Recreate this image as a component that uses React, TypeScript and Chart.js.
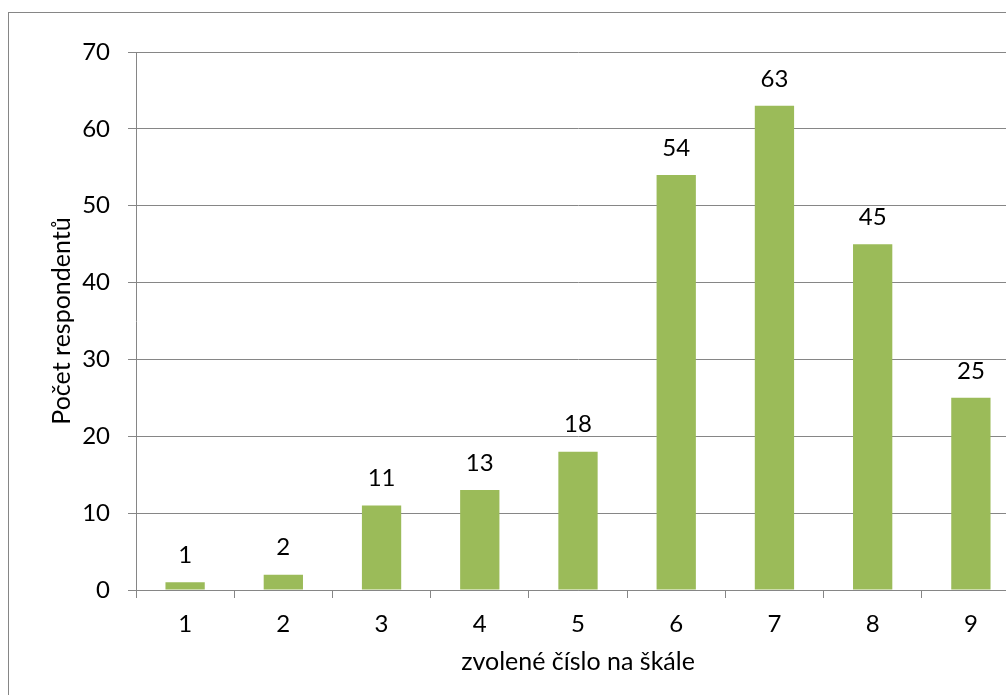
import React, { useEffect, useRef } from "react";
import { Chart, registerables } from "chart.js";

Chart.register(...registerables);

const categories = ["1", "2", "3", "4", "5", "6", "7", "8", "9"];
const respondents = [1, 2, 11, 13, 18, 54, 63, 45, 25];
const yTicks = [0, 10, 20, 30, 40, 50, 60, 70];
const xTitle = "zvolené číslo na škále";
const yTitle = "Počet respondentů";

const FONT = "Lato, 'Open Sans', sans-serif";
const GRID = "#868686";
const BAR = "#9BBB59";
const TICK_SIZE = 24;
const TITLE_SIZE = 25;

const CANVAS_W = 1030;
const CANVAS_H = 700;

const framePlugin = {
  id: "frame",
  beforeDraw(chart: any) {
    const ctx = chart.ctx;
    ctx.save();
    ctx.fillStyle = "#ffffff";
    ctx.fillRect(0, 0, chart.width, chart.height);
    ctx.strokeStyle = GRID;
    ctx.lineWidth = 1;
    ctx.strokeRect(8.5, 12.5, 2000, 2000);
    ctx.restore();
  },
};

const valueLabels = {
  id: "valueLabels",
  afterDatasetsDraw(chart: any) {
    const ctx = chart.ctx;
    const meta = chart.getDatasetMeta(0);
    const data = chart.data.datasets[0].data as number[];
    ctx.save();
    ctx.fillStyle = "#000000";
    ctx.font = `${TICK_SIZE}px ${FONT}`;
    ctx.textAlign = "center";
    ctx.textBaseline = "middle";
    meta.data.forEach((bar: any, i: number) => {
      ctx.fillText(String(data[i]), bar.x, bar.y - 27);
    });
    ctx.restore();
  },
};

export default function App() {
  const ref = useRef<HTMLCanvasElement | null>(null);

  useEffect(() => {
    if (!ref.current) return;
    const chart = new Chart(ref.current, {
      type: "bar",
      data: {
        labels: categories,
        datasets: [
          {
            data: respondents,
            backgroundColor: BAR,
            borderWidth: 0,
            barPercentage: 0.4,
            categoryPercentage: 1,
          },
        ],
      },
      plugins: [framePlugin, valueLabels],
      options: {
        animation: false,
        responsive: false,
        devicePixelRatio: 1,
        layout: { padding: { top: 52, right: CANVAS_W - 1020, bottom: 0, left: 0 } },
        plugins: {
          legend: { display: false },
          tooltip: { enabled: false },
        },
        scales: {
          x: {
            offset: true,
            afterFit(scale: any) {
              scale.height = CANVAS_H - 590;
            },
            grid: {
              offset: true,
              drawOnChartArea: false,
              drawTicks: true,
              tickLength: 8,
              color: GRID,
            },
            border: { display: true, color: GRID, width: 1 },
            ticks: {
              color: "#000000",
              font: { family: FONT, size: TICK_SIZE },
              padding: 12,
            },
            title: {
              display: true,
              text: xTitle,
              color: "#000000",
              font: { family: FONT, size: TITLE_SIZE },
              padding: { top: 0, bottom: 23 },
            },
          },
          y: {
            min: 0,
            max: 70,
            afterFit(scale: any) {
              scale.width = 136;
            },
            afterBuildTicks(scale: any) {
              scale.ticks = yTicks.map((v) => ({ value: v }));
            },
            grid: {
              color: GRID,
              tickLength: 8,
              drawTicks: true,
            },
            border: { display: true, color: GRID, width: 1 },
            ticks: {
              color: "#000000",
              font: { family: FONT, size: TICK_SIZE },
              padding: 18,
            },
            title: {
              display: true,
              text: yTitle,
              color: "#000000",
              font: { family: FONT, size: TITLE_SIZE },
              padding: { top: 47, bottom: 0 },
            },
          },
        },
      },
    });
    return () => chart.destroy();
  }, []);

  return (
    <div
      style={{
        position: "fixed",
        left: 0,
        top: 0,
        width: 1006,
        height: 695,
        overflow: "hidden",
        background: "#ffffff",
      }}
    >
      <canvas
        ref={ref}
        width={CANVAS_W}
        height={CANVAS_H}
        style={{ display: "block", width: CANVAS_W, height: CANVAS_H }}
      />
    </div>
  );
}
